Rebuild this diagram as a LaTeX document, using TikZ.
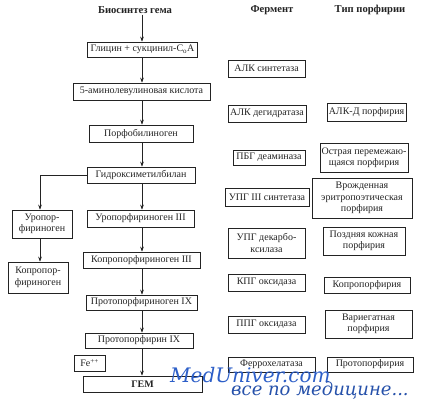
\documentclass[tikz,border=0pt]{standalone}
\usepackage{fontspec}
\setmainfont{Liberation Serif}
\newfontfamily\wmserif{DejaVu Serif}
\usetikzlibrary{arrows.meta}
\definecolor{wmblue}{RGB}{45,95,200}
\definecolor{ink}{RGB}{35,35,35}
\newcommand{\bx}[6]{\node[box, minimum width=#4, minimum height=#5] (#1) at (#2,-#3) {#6};}
\begin{document}
\begin{tikzpicture}[x=1pt,y=1pt,
  font=\fontsize{10}{11.5}\selectfont,
  box/.style={draw=ink, line width=0.7pt, align=center, inner sep=1pt, text=ink},
  ttl/.style={font=\fontsize{10.6}{12}\selectfont\bfseries, text=ink, inner sep=1pt},
  arr/.style={-{Stealth[length=5pt,width=3.6pt]}, draw=ink, line width=0.6pt}]
\useasboundingbox (0,0) rectangle (425,-400);
\coordinate (ax) at (142,0);
\coordinate (lx) at (40,0);
% titles
\node[ttl] (t1) at (135,-10) {Биосинтез гема};
\node[ttl] (t2) at (272,-10) {Фермент};
\node[ttl] (t3) at (370,-10) {Тип порфирии};
% main chain
\bx{g1}{142.5}{49.5}{110}{15}{Глицин + сукцинил-C\textsubscript{o}A}
\bx{g2}{141.5}{91.5}{137}{17}{5-аминолевулиновая кислота}
\bx{g3}{141}{133.5}{104}{17}{Порфобилиноген}
\bx{g4}{141}{175}{108}{16}{Гидроксиметилбилан}
\bx{g5}{140.5}{218.5}{107}{17}{Уропорфириноген III}
\bx{g6}{141.5}{260}{117}{16}{Копропорфириноген III}
\bx{g7}{141.5}{302.5}{111}{15}{Протопорфириноген IX}
\bx{g8}{139}{340.5}{108}{15}{Протопорфирин IX}
\bx{fe}{89.5}{363}{31}{16}{Fe\textsuperscript{++}}
\bx{gem}{142.5}{384}{119}{16}{\bfseries ГЕМ}
% side branch
\bx{u1}{42}{224}{60}{28}{Уропор-\\фириноген}
\bx{k1}{38}{277.5}{60}{31}{Копропор-\\фириноген}
% enzymes
\bx{e1}{266.5}{68.5}{77}{17}{АЛК синтетаза}
\bx{e2}{267}{113.5}{78}{17}{АЛК дегидратаза}
\bx{e3}{269}{157.5}{72}{15}{ПБГ деаминаза}
\bx{e4}{267}{197}{84}{18}{УПГ III синтетаза}
\bx{e5}{266.5}{243}{77}{30}{УПГ декарбо-\\ксилаза}
\bx{e6}{266.5}{282.5}{77}{17}{КПГ оксидаза}
\bx{e7}{266.5}{324.5}{77}{17}{ППГ оксидаза}
\bx{e8}{271.5}{364.5}{87}{15}{Феррохелатаза}
% porphyrias
\bx{p1}{366.5}{112}{79}{18}{АЛК-Д порфирия}
\bx{p2}{364}{157.5}{88}{29}{Острая перемежаю-\\щаяся порфирия}
\bx{p3}{362}{198}{100}{40}{Врожденная\\эритропоэтическая\\порфирия}
\bx{p4}{364}{241}{82}{28}{Поздняя кожная\\порфирия}
\bx{p5}{367}{285}{86}{16}{Копропорфирия}
\bx{p6}{368.5}{324}{87}{28}{Вариегатная\\порфирия}
\bx{p7}{370}{364.5}{86}{15}{Протопорфирия}
% arrows
\draw[arr] (t1.south -| ax) -- (g1.north -| ax);
\draw[arr] (g1.south -| ax) -- (g2.north -| ax);
\draw[arr] (g2.south -| ax) -- (g3.north -| ax);
\draw[arr] (g3.south -| ax) -- (g4.north -| ax);
\draw[arr] (g4.south -| ax) -- (g5.north -| ax);
\draw[arr] (g5.south -| ax) -- (g6.north -| ax);
\draw[arr] (g6.south -| ax) -- (g7.north -| ax);
\draw[arr] (g7.south -| ax) -- (g8.north -| ax);
\draw[arr] (g8.south -| ax) -- (gem.north -| ax);
\draw[arr] (g4.west) -| (u1.north -| lx);
\draw[arr] (u1.south -| lx) -- (k1.north -| lx);
% watermark
\node[anchor=base west, inner sep=0, text=wmblue, font=\wmserif\itshape\fontsize{20}{20}\selectfont] (wm1) at (170,-382) {MedUniver.com};
\node[anchor=base west, inner sep=0, text=wmblue!85!black, font=\wmserif\itshape\fontsize{18}{18}\selectfont] (wm2) at (231,-395) {все по медицине...};
\end{tikzpicture}
\end{document}
